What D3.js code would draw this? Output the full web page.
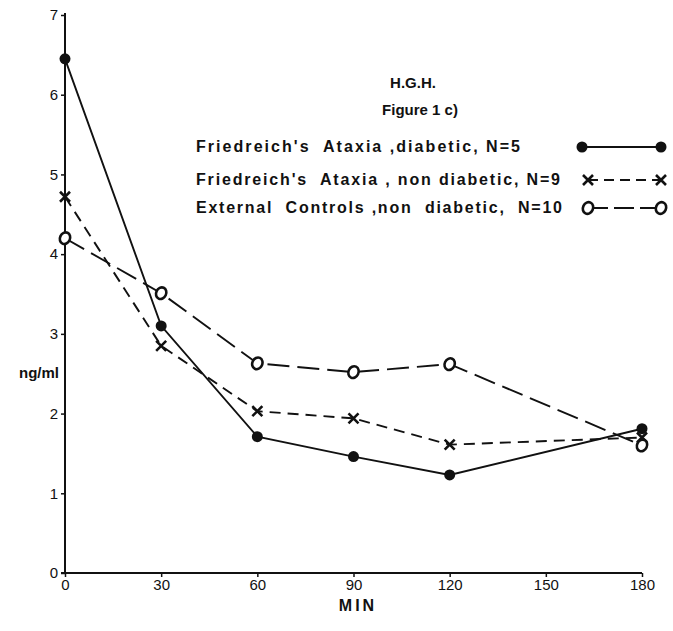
<!DOCTYPE html>
<html>
<head>
<meta charset="utf-8">
<script src="https://cdn.jsdelivr.net/npm/d3@7"></script>
<style>
  html, body { margin: 0; padding: 0; background: #fff; }
  svg { display: block; }
</style>
</head>
<body>
<svg id="chart" width="673" height="631"></svg>
<script>
// ---- data ----
const minutes = [0, 30, 60, 90, 120, 180];
const diabetic = [6.45, 3.10, 1.71, 1.46, 1.23, 1.81];
const nonDiabetic = [4.72, 2.85, 2.03, 1.94, 1.61, 1.70];
const controls = [4.20, 3.51, 2.63, 2.52, 2.62, 1.60];
const xTicks = [0, 30, 60, 90, 120, 150, 180];
const yTicks = [0, 1, 2, 3, 4, 5, 6, 7];
const titleLines = ["H.G.H.", "Figure 1 c)"];
const legendLabels = [
  "Friedreich's  Ataxia ,diabetic, N=5",
  "Friedreich's  Ataxia , non diabetic, N=9",
  "External  Controls ,non  diabetic,  N=10"
];
const xLabel = "MIN";
const yLabel = "ng/ml";

// ---- layout ----
const svg = d3.select("#chart");
const ink = "#111";
const font = "'Liberation Sans', Arial, sans-serif";
const x = d3.scaleLinear().domain([0, 180]).range([65, 642]);
const y = d3.scaleLinear().domain([0, 7]).range([573, 15]);

// axes
const yAxis = d3.axisLeft(y).tickValues(yTicks).tickFormat(d3.format("d"))
  .tickSize(4).tickSizeOuter(0).tickPadding(3);
const gy = svg.append("g").attr("transform", `translate(${x(0)},0)`).call(yAxis);
gy.select(".domain").remove();
gy.append("line").attr("x1", 0).attr("x2", 0).attr("y1", y(0)).attr("y2", y(7) - 2)
  .attr("stroke", ink).attr("stroke-width", 2);
gy.selectAll(".tick line").attr("stroke", ink).attr("stroke-width", 1.5);
gy.selectAll(".tick text").attr("fill", ink)
  .style("font-family", font).style("font-size", "15px");

const xAxis = d3.axisBottom(x).tickValues(xTicks).tickFormat(d3.format("d"))
  .tickSize(4).tickSizeOuter(0).tickPadding(2);
const gx = svg.append("g").attr("transform", `translate(0,${y(0)})`).call(xAxis);
gx.select(".domain").remove();
gx.append("line").attr("x1", x(0) - 4).attr("x2", x(180)).attr("y1", 0).attr("y2", 0)
  .attr("stroke", ink).attr("stroke-width", 2);
gx.selectAll(".tick line").attr("stroke", ink).attr("stroke-width", 1.5);
gx.selectAll(".tick text").attr("fill", ink)
  .style("font-family", font).style("font-size", "15px");

// axis titles
svg.append("text").attr("x", 358).attr("y", 611).attr("text-anchor", "middle")
  .attr("fill", ink).style("font-family", font)
  .style("font-size", "16px").style("font-weight", "bold").style("letter-spacing", "3px")
  .text(xLabel);
svg.append("text").attr("x", 39).attr("y", 378).attr("text-anchor", "middle")
  .attr("fill", ink).style("font-family", font)
  .style("font-size", "15px").style("font-weight", "bold")
  .text(yLabel);

// series
const series = [
  { values: diabetic, dash: null, marker: "dot" },
  { values: nonDiabetic, dash: "11,7", marker: "cross" },
  { values: controls, dash: "22,8", marker: "ring" }
];
const line = d3.line().x(d => x(d[0])).y(d => y(d[1]));

function drawMarker(g, type, cx, cy) {
  if (type === "dot") {
    g.append("circle").attr("cx", cx).attr("cy", cy).attr("r", 5.5).attr("fill", ink);
  } else if (type === "cross") {
    const s = 5;
    g.append("path").attr("d", `M${cx - s},${cy - s}L${cx + s},${cy + s}M${cx - s},${cy + s}L${cx + s},${cy - s}`)
      .attr("stroke", ink).attr("stroke-width", 2.6).attr("fill", "none");
  } else {
    g.append("ellipse").attr("cx", cx).attr("cy", cy).attr("rx", 5).attr("ry", 6)
      .attr("transform", `rotate(25,${cx},${cy})`)
      .attr("fill", "#fff").attr("stroke", ink).attr("stroke-width", 2.6);
  }
}

series.forEach(s => {
  const pts = minutes.map((m, i) => [m, s.values[i]]);
  svg.append("path").attr("d", line(pts)).attr("fill", "none")
    .attr("stroke", ink).attr("stroke-width", 1.9)
    .attr("stroke-dasharray", s.dash);
});
series.forEach(s => {
  const g = svg.append("g");
  minutes.forEach((m, i) => drawMarker(g, s.marker, x(m), y(s.values[i])));
});

// title
svg.append("text").attr("x", 413).attr("y", 88).attr("text-anchor", "middle")
  .attr("fill", ink).style("font-family", font).style("font-size", "15px").style("font-weight", "bold")
  .text(titleLines[0]);
svg.append("text").attr("x", 420).attr("y", 115).attr("text-anchor", "middle")
  .attr("fill", ink).style("font-family", font).style("font-size", "15px").style("font-weight", "bold")
  .text(titleLines[1]);

// legend
const legY = [152, 185, 213];
const legEnd = [520, 560, 562];
legendLabels.forEach((lab, i) => {
  svg.append("text").attr("x", 196).attr("y", legY[i])
    .attr("fill", ink).style("font-family", font).style("font-size", "16px").style("font-weight", "bold")
    .attr("textLength", legEnd[i] - 196).attr("lengthAdjust", "spacing")
    .style("white-space", "pre")
    .text(lab);
  const s = series[i];
  const ly = legY[i] - 5;
  const g = svg.append("g");
  const x0 = i === 0 ? 582 : 588;
  g.append("line").attr("x1", x0).attr("x2", 661).attr("y1", ly).attr("y2", ly)
    .attr("stroke", ink).attr("stroke-width", 1.9).attr("stroke-dasharray", s.dash ? (i === 1 ? "10,6" : "20,6") : null);
  drawMarker(g, s.marker, x0, ly);
  drawMarker(g, s.marker, 661, ly);
});
</script>
</body>
</html>
